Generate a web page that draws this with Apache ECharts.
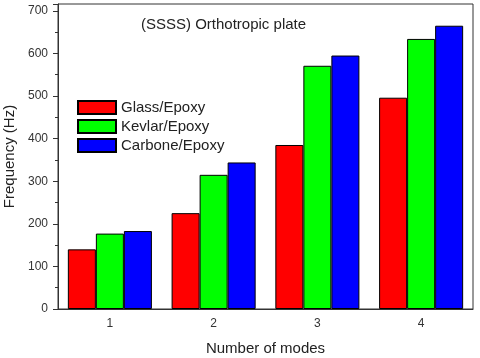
<!DOCTYPE html>
<html>
<head>
    <meta charset="utf-8">
    <title></title>
    <script src="https://cdn.jsdelivr.net/npm/echarts@6/dist/echarts.min.js"></script>
    <style>
        html, body { margin: 0; padding: 0; background: #fff; }
        #chart { width: 480px; height: 358px; }
    </style>
</head>
<body>
<div id="chart"></div>
<script type="text/javascript">
    // data
    var modes = ['1', '2', '3', '4'];
    var glass = [140, 225, 385, 496];
    var kevlar = [177, 315, 571, 634];
    var carbone = [183, 344, 595, 665];
    var seriesNames = ['Glass/Epoxy', 'Kevlar/Epoxy', 'Carbone/Epoxy'];
    var seriesColors = ['#ff0000', '#00ff00', '#0000ff'];

    var font = 'Liberation Sans, Arial, sans-serif';
    var chart = echarts.init(document.getElementById('chart'));

    function bar(name, data, color) {
        return {
            name: name,
            type: 'bar',
            data: data,
            barGap: '0%',
            barCategoryGap: '19%',
            itemStyle: { color: color, borderColor: '#000', borderWidth: 1 }
        };
    }

    var option = {
        animation: false,
        backgroundColor: '#fff',
        title: {
            text: '(SSSS) Orthotropic plate',
            left: 141,
            top: 17,
            padding: 0,
            textStyle: { fontFamily: font, fontSize: 15, fontWeight: 'normal', color: '#222' }
        },
        legend: {
            orient: 'vertical',
            left: 77,
            top: 100,
            padding: 0,
            itemWidth: 38,
            itemHeight: 13,
            itemGap: 4,
            icon: 'rect',
            textStyle: { fontFamily: font, fontSize: 15, color: '#222' },
            data: seriesNames
        },
        grid: {
            left: 58,
            right: 7,
            top: 4,
            bottom: 49,
            containLabel: false,
            outerBoundsMode: 'none',
            show: true,
            borderColor: '#333',
            borderWidth: 1
        },
        xAxis: {
            type: 'category',
            data: modes,
            name: 'Number of modes',
            nameLocation: 'middle',
            nameGap: 32,
            nameTextStyle: { fontFamily: font, fontSize: 15, color: '#222' },
            axisLine: { lineStyle: { color: '#333' } },
            axisTick: { length: 5, lineStyle: { color: '#333' } },
            axisLabel: { fontFamily: font, fontSize: 12, color: '#333', margin: 9 }
        },
        yAxis: {
            type: 'value',
            min: 0,
            max: 716,
            interval: 100,
            name: 'Frequency (Hz)',
            nameLocation: 'middle',
            nameGap: 39,
            nameTextStyle: { fontFamily: font, fontSize: 15, color: '#222' },
            axisLine: { show: true, lineStyle: { color: '#333' } },
            axisTick: { show: true, length: 5, lineStyle: { color: '#333' } },
            minorTick: { show: true, splitNumber: 2, length: 3, lineStyle: { color: '#333' } },
            splitLine: { show: false },
            axisLabel: { fontFamily: font, fontSize: 12, color: '#333', margin: 10, showMaxLabel: false }
        },
        series: [
            bar(seriesNames[0], glass, seriesColors[0]),
            bar(seriesNames[1], kevlar, seriesColors[1]),
            bar(seriesNames[2], carbone, seriesColors[2])
        ]
    };
    chart.setOption(option);
</script>
</body>
</html>
